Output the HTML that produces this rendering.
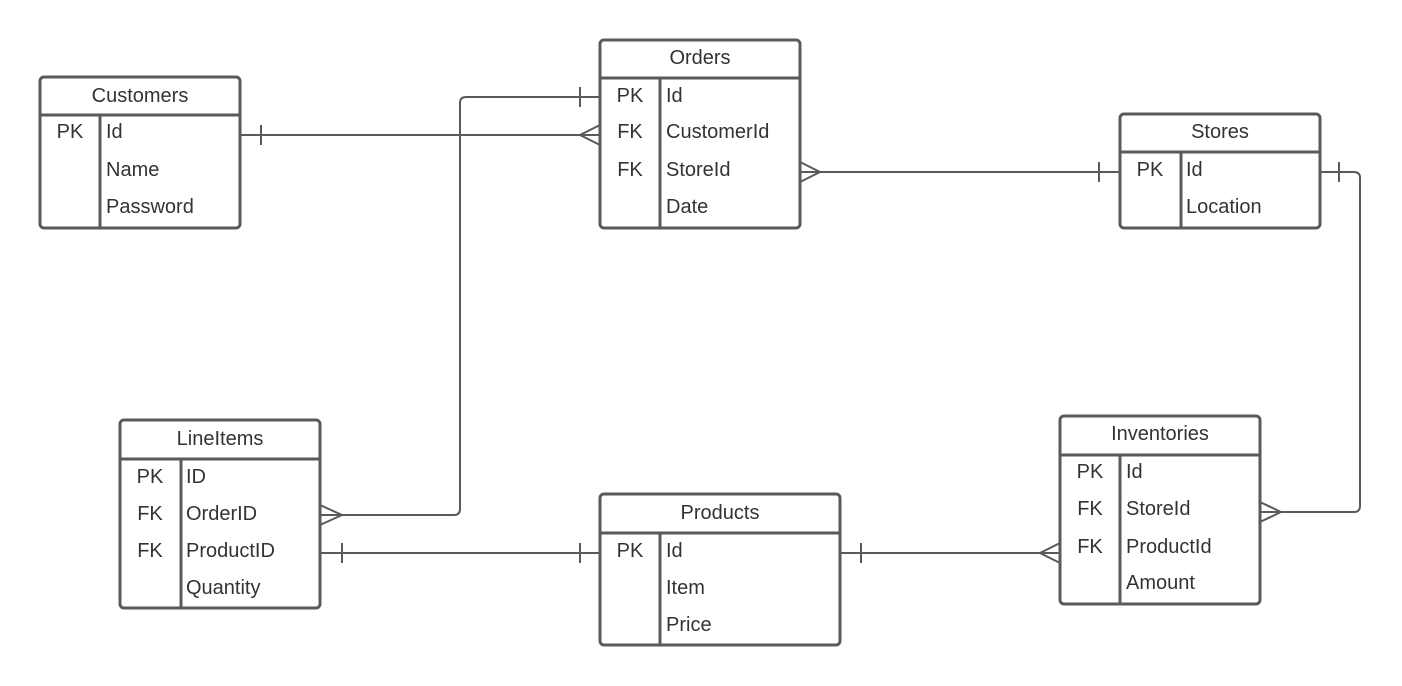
<!DOCTYPE html>
<html><head><meta charset="utf-8">
<style>
html,body{margin:0;padding:0;background:#fff;}
svg{display:block;}
text{font-family:"Liberation Sans",sans-serif;font-size:20px;fill:#333;}
</style></head>
<body>
<svg width="1402" height="686" viewBox="0 0 1402 686" xmlns="http://www.w3.org/2000/svg">
<g fill="none" stroke="#5a5a5a" stroke-width="2">
  <!-- Customers -> Orders -->
  <path d="M240 135 H600"/>
  <path d="M261 125 V145"/>
  <path d="M600 125 L580 135 L600 145"/>
  <!-- Orders PK -> LineItems OrderID -->
  <path d="M600 97 H466 Q460 97 460 103 V509 Q460 515 454 515 H320"/>
  <path d="M580 87 V107"/>
  <path d="M320 505 L342 515 L320 525"/>
  <!-- Orders StoreId -> Stores -->
  <path d="M800 172 H1120"/>
  <path d="M800 162 L820 172 L800 182"/>
  <path d="M1099 162 V182"/>
  <!-- Stores Id -> Inventories StoreId -->
  <path d="M1320 172 H1354 Q1360 172 1360 178 V506 Q1360 512 1354 512 H1260"/>
  <path d="M1339 162 V182"/>
  <path d="M1260 502 L1281 512 L1260 522"/>
  <!-- LineItems ProductID -> Products -->
  <path d="M320 553 H600"/>
  <path d="M342 543 V563"/>
  <path d="M580 543 V563"/>
  <!-- Products -> Inventories ProductId -->
  <path d="M840 553 H1060"/>
  <path d="M861 543 V563"/>
  <path d="M1060 543 L1040 553 L1060 563"/>
</g>
<g fill="#fff" stroke="#5a5a5a" stroke-width="3">
  <!-- Customers -->
  <rect x="40" y="77" width="200" height="151" rx="4"/>
  <path d="M40 115 H240 M100 115 V228"/>
  <!-- Orders -->
  <rect x="600" y="40" width="200" height="188" rx="4"/>
  <path d="M600 78 H800 M660 78 V228"/>
  <!-- Stores -->
  <rect x="1120" y="114" width="200" height="114" rx="4"/>
  <path d="M1120 152 H1320 M1181 152 V228"/>
  <!-- Inventories -->
  <rect x="1060" y="416" width="200" height="188" rx="4"/>
  <path d="M1060 455 H1260 M1120 455 V604"/>
  <!-- LineItems -->
  <rect x="120" y="420" width="200" height="188" rx="4"/>
  <path d="M120 459 H320 M181 459 V608"/>
  <!-- Products -->
  <rect x="600" y="494" width="240" height="151" rx="4"/>
  <path d="M600 533 H840 M660 533 V645"/>
</g>
<g>
  <text x="140" y="102" text-anchor="middle">Customers</text>
  <text x="70" y="138" text-anchor="middle">PK</text>
  <text x="106" y="138">Id</text>
  <text x="106" y="176">Name</text>
  <text x="106" y="213">Password</text>

  <text x="700" y="64" text-anchor="middle">Orders</text>
  <text x="630" y="102" text-anchor="middle">PK</text>
  <text x="630" y="138" text-anchor="middle">FK</text>
  <text x="630" y="176" text-anchor="middle">FK</text>
  <text x="666" y="102">Id</text>
  <text x="666" y="138">CustomerId</text>
  <text x="666" y="176">StoreId</text>
  <text x="666" y="213">Date</text>

  <text x="1220" y="138" text-anchor="middle">Stores</text>
  <text x="1150" y="176" text-anchor="middle">PK</text>
  <text x="1186" y="176">Id</text>
  <text x="1186" y="213">Location</text>

  <text x="1160" y="440" text-anchor="middle">Inventories</text>
  <text x="1090" y="478" text-anchor="middle">PK</text>
  <text x="1090" y="515" text-anchor="middle">FK</text>
  <text x="1090" y="553" text-anchor="middle">FK</text>
  <text x="1126" y="478">Id</text>
  <text x="1126" y="515">StoreId</text>
  <text x="1126" y="553">ProductId</text>
  <text x="1126" y="589">Amount</text>

  <text x="220" y="445" text-anchor="middle">LineItems</text>
  <text x="150" y="483" text-anchor="middle">PK</text>
  <text x="150" y="520" text-anchor="middle">FK</text>
  <text x="150" y="557" text-anchor="middle">FK</text>
  <text x="186" y="483">ID</text>
  <text x="186" y="520">OrderID</text>
  <text x="186" y="557">ProductID</text>
  <text x="186" y="594">Quantity</text>

  <text x="720" y="519" text-anchor="middle">Products</text>
  <text x="630" y="557" text-anchor="middle">PK</text>
  <text x="666" y="557">Id</text>
  <text x="666" y="594">Item</text>
  <text x="666" y="631">Price</text>
</g>
</svg>
</body></html>
